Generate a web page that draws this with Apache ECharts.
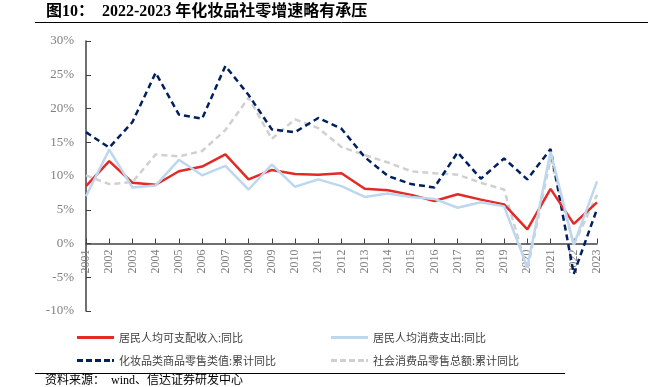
<!DOCTYPE html>
<html>
<head>
<meta charset="utf-8">
<script src="https://cdn.jsdelivr.net/npm/echarts@6/dist/echarts.min.js"></script>
<style>html,body{margin:0;padding:0;background:#fff}#c{width:648px;height:387px}</style>
</head>
<body>
<div id="c"></div>
<script>
const years = ['2001','2002','2003','2004','2005','2006','2007','2008','2009','2010','2011','2012','2013','2014','2015','2016','2017','2018','2019','2020','2021','2022','2023'];
const income = [8.5,12.2,9.0,8.7,10.7,11.4,13.2,9.5,10.9,10.3,10.2,10.4,8.1,7.9,7.2,6.3,7.3,6.5,5.8,2.1,8.1,2.9,6.1];
const consumption = [7.0,13.9,8.3,8.6,12.4,10.1,11.5,8.0,11.7,8.4,9.5,8.5,6.9,7.4,6.9,6.6,5.3,6.1,5.5,-3.5,13.6,-0.2,9.2];
const cosmetics = [16.5,14.2,18.0,25.3,19.1,18.5,26.3,22.0,16.9,16.5,18.6,17.0,12.8,10.0,8.8,8.3,13.5,9.6,12.6,9.5,14.0,-4.5,5.1];
const retail = [10.1,8.8,9.1,13.2,12.9,13.7,16.8,21.6,15.5,18.4,17.1,14.3,13.1,12.0,10.7,10.4,10.2,9.0,8.0,-3.9,12.5,-0.2,7.2];
const yTicks = {min:-10, max:30, interval:5};
const names = ['居民人均可支配收入:同比','居民人均消费支出:同比','化妆品类商品零售类值:累计同比','社会消费品零售总额:累计同比'];

const serif = '"Liberation Serif","Noto Sans CJK SC",serif';
const gridTop = 41, gridBottom = 76, H = 387;
const gridH = H - gridTop - gridBottom;
const zeroOffset = -gridH * (0 - yTicks.min) / (yTicks.max - yTicks.min);
const solidIcon = 'path://M0,0h37v3h-37z';
const dashIcon = 'path://M0,0h6v3h-6z M9,0h6v3h-6z M18,0h6v3h-6z M27,0h6v3h-6z M35,0h2v3h-2z';
const chart = echarts.init(document.getElementById('c'));
function leg(name, left, top, icon){
  return {data:[{name:name, icon:icon}], left:left, top:top, itemWidth:37, itemHeight:3, itemGap:4,
    textStyle:{fontSize:11, color:'#404040', fontFamily:'"Noto Sans CJK SC",sans-serif'}};
}
chart.setOption({
  animation:false,
  grid:{left:86, right:51, top:gridTop, bottom:gridBottom},
  legend:[leg(names[0],72,327,solidIcon), leg(names[1],326,327,solidIcon), leg(names[2],72,350,dashIcon), leg(names[3],326,350,dashIcon)],
  xAxis:{type:'category', data:years, boundaryGap:false, offset:zeroOffset,
    axisLine:{onZero:false, lineStyle:{color:'#404040', width:1.5}},
    axisTick:{inside:true, length:5, alignWithLabel:true, lineStyle:{color:'#404040'}},
    axisLabel:{rotate:90, interval:0, color:'#808080', fontSize:12, fontFamily:serif, margin:6}},
  yAxis:{type:'value', min:yTicks.min, max:yTicks.max, interval:yTicks.interval,
    splitLine:{show:false},
    axisLine:{show:true, lineStyle:{color:'#404040', width:1.5}},
    axisTick:{show:true, inside:true, length:5, lineStyle:{color:'#404040'}},
    axisLabel:{formatter:'{value}%', color:'#808080', fontSize:13, fontFamily:serif, margin:12}},
  series:[
    {name:names[3], type:'line', data:retail, symbol:'none', lineStyle:{color:'#D0D0D0', width:2.5, type:[6,4]}, itemStyle:{color:'#D0D0D0'}},
    {name:names[2], type:'line', data:cosmetics, symbol:'none', lineStyle:{color:'#002060', width:2.5, type:[6,4]}, itemStyle:{color:'#002060'}},
    {name:names[0], type:'line', data:income, symbol:'none', lineStyle:{color:'#E32A26', width:2.5}, itemStyle:{color:'#E32A26'}},
    {name:names[1], type:'line', data:consumption, symbol:'none', lineStyle:{color:'#BDD7EE', width:2.5}, itemStyle:{color:'#BDD7EE'}}
  ],
  graphic:[
    {type:'text', left:46, top:4, style:{text:'图10：  2022-2023 年化妆品社零增速略有承压', font:'bold 16px "Liberation Serif","Noto Sans CJK SC",serif', fill:'#000'}},
    {type:'line', shape:{x1:35, y1:22.5, x2:648, y2:22.5}, style:{stroke:'#000', lineWidth:1}},
    {type:'line', shape:{x1:35, y1:373.5, x2:565, y2:373.5}, style:{stroke:'#000', lineWidth:1}},
    {type:'text', left:45, top:375, style:{text:'资料来源：  wind、信达证券研发中心', font:'12px "Liberation Serif","Noto Sans CJK SC",serif', fill:'#000'}}
  ]
});
</script>
</body>
</html>
